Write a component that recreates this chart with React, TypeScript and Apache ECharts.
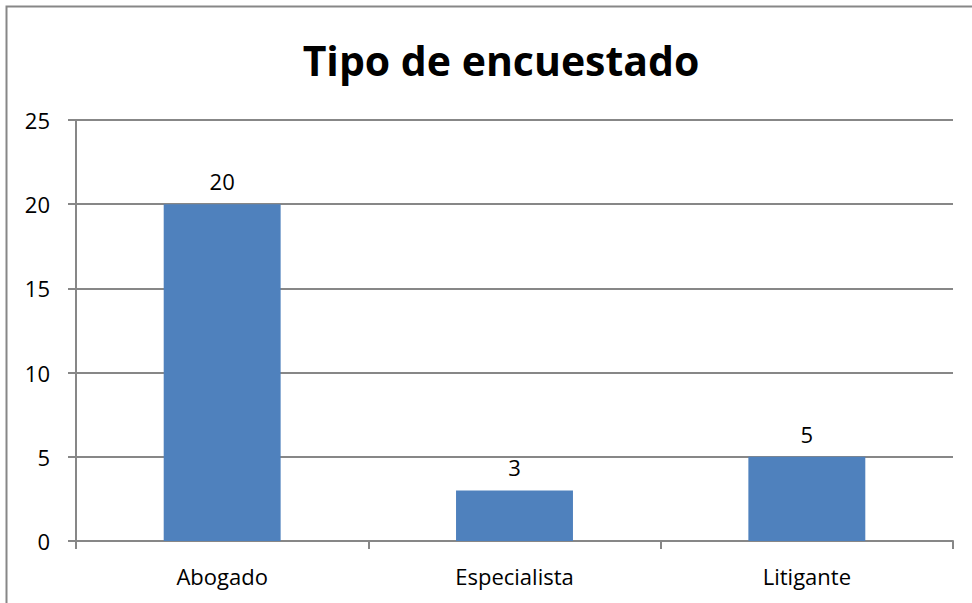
import React, { useEffect, useRef } from "react";
import * as echarts from "echarts";

const categories = ["Abogado", "Especialista", "Litigante"];
const values = [20, 3, 5];
const titleText = "Tipo de encuestado";

export default function App() {
  const ref = useRef<HTMLDivElement>(null);
  useEffect(() => {
    const chart = echarts.init(ref.current!, undefined, { renderer: "svg" });
    const font = "'Open Sans', 'Noto Sans', sans-serif";
    chart.setOption({
      animation: false,
      backgroundColor: "#ffffff",
      graphic: [
        {
          type: "rect",
          shape: { x: 6.5, y: 6.5, width: 1000, height: 700 },
          style: { fill: "none", stroke: "#878787", lineWidth: 2 },
          silent: true,
        },
      ],
      title: {
        text: titleText,
        left: 496,
        top: 34,
        textAlign: "center",
        textStyle: { fontFamily: font, fontWeight: "bold", fontSize: 41, color: "#000" },
      },
      grid: { left: 76, right: 19, top: 120, bottom: 62, containLabel: false },
      xAxis: {
        type: "category",
        data: categories,
        axisLine: { lineStyle: { color: "#878787", width: 2 } },
        axisTick: { show: true, length: 8, lineStyle: { color: "#878787", width: 2 } },
        axisLabel: { fontFamily: font, fontSize: 22, color: "#000", margin: 24 },
      },
      yAxis: {
        type: "value",
        min: 0,
        max: 25,
        interval: 5,
        axisLine: { show: true, lineStyle: { color: "#878787", width: 2 } },
        axisTick: { show: true, length: 8, lineStyle: { color: "#878787", width: 2 } },
        splitLine: { show: true, lineStyle: { color: "#878787", width: 2 } },
        axisLabel: { fontFamily: font, fontSize: 22, color: "#000", margin: 26 },
      },
      series: [
        {
          type: "bar",
          data: values,
          barWidth: "40%",
          itemStyle: { color: "#4F81BD" },
          label: {
            show: true,
            position: "top",
            distance: 12,
            fontFamily: font,
            fontSize: 22,
            color: "#000",
          },
        },
      ],
    });
    return () => chart.dispose();
  }, []);
  return (
    <div
      ref={ref}
      style={{ position: "fixed", left: 0, top: 0, width: 972, height: 603 }}
    />
  );
}
